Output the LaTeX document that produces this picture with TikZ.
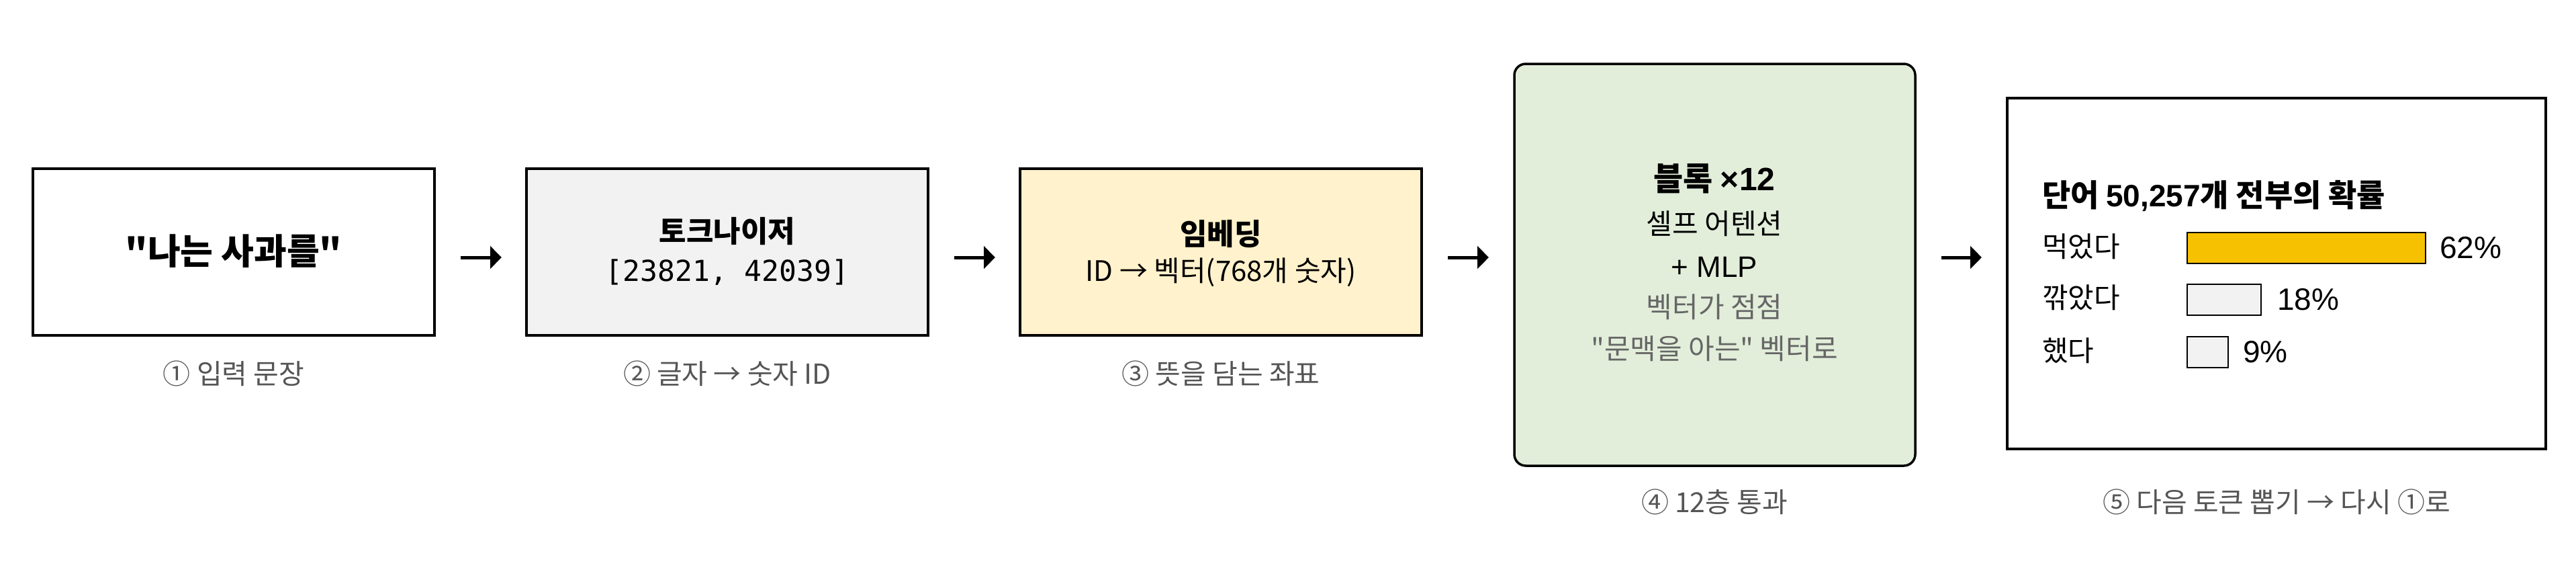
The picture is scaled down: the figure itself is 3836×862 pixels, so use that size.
\documentclass[tikz,border=0pt]{standalone}
\usepackage{fontspec}
\setmainfont{Noto Sans CJK KR}
\newfontfamily\qf{Noto Sans CJK KR}
\newfontfamily\hel{Liberation Sans}
\newfontfamily\mono{DejaVu Sans Mono}
\usetikzlibrary{arrows.meta}
\newcommand{\sq}{{\qf\symbol{34}}}
\definecolor{lbl}{HTML}{555555}
\definecolor{sub}{HTML}{666666}
\definecolor{tokfill}{HTML}{F2F2F2}
\definecolor{embfill}{HTML}{FFF2CC}
\definecolor{blkfill}{HTML}{E2EEDA}
\definecolor{bary}{HTML}{F6C100}
\tikzset{
  box/.style={draw=black, line width=3.5pt, minimum width=598pt, minimum height=248pt, inner sep=0pt, outer sep=0pt},
  bar/.style={draw=black, line width=2.5pt, minimum height=46pt, inner sep=0pt, outer sep=0pt, anchor=west},
  arr/.style={line width=5pt, -{Triangle[length=17pt,width=33pt]}},
  txt/.style={inner sep=0pt, outer sep=0pt},
  lab/.style={txt, text=lbl, font=\fontsize{41}{48}\selectfont},
  head/.style={txt, font=\bfseries\fontsize{44}{52}\selectfont},
  body/.style={txt, font=\fontsize{42}{50}\selectfont},
  row/.style={txt, anchor=west, font=\fontsize{42}{50}\selectfont},
  pct/.style={txt, anchor=west, font=\hel\fontsize{46}{54}\selectfont},
}
\begin{document}
\begin{tikzpicture}[x=1pt,y=-1pt]
\useasboundingbox (0,0) rectangle (3836,862);

% boxes
\node[box] (b1) at (348,375) {};
\node[txt, font=\bfseries\fontsize{53}{60}\selectfont] (t1) at (348,374) {\sq 나는 사과를\sq};

\node[box, fill=tokfill] (b2) at (1083,375) {};
\node[head] (t2a) at (1083,344) {토크나이저};
\node[txt, font=\mono\fontsize{43}{50}\selectfont] (t2b) at (1083,405) {[23821, 42039]};

\node[box, fill=embfill] (b3) at (1818,375) {};
\node[head] (t3a) at (1818,348) {임베딩};
\node[body] (t3b) at (1818,405) {ID → 벡터(768개 숫자)};

\node[draw=black, line width=3.5pt, fill=blkfill, rounded corners=17pt, minimum width=597pt, minimum height=598pt, inner sep=0pt, outer sep=0pt] (b4) at (2553.5,394) {};
\node[txt, font=\bfseries\fontsize{48}{56}\selectfont] (t4a) at (2553,266) {블록 {\hel ×12}};
\node[body] (t4b) at (2553,333) {셀프 어텐션};
\node[txt, font=\hel\fontsize{44}{52}\selectfont] (t4c) at (2553,397) {+ MLP};
\node[body, text=sub] (t4d) at (2553,457) {벡터가 점점};
\node[body, text=sub] (t4e) at (2553,519) {\sq 문맥을 아는\sq{} 벡터로};

\node[draw=black, line width=3.5pt, minimum width=802pt, minimum height=522pt, inner sep=0pt, outer sep=0pt] (b5) at (3390,407) {};
\node[txt, anchor=west, font=\bfseries\fontsize{46}{54}\selectfont] (t5) at (3041,291) {단어 {\hel 50,257}개 전부의 확률};
\node[row] (r1) at (3041,367) {먹었다};
\node[row] (r2) at (3041,443) {깎았다};
\node[row] (r3) at (3041,522) {했다};
\node[bar, fill=bary, minimum width=355pt] (bar1) at (3257,369) {};
\node[bar, fill=tokfill, minimum width=110pt] (bar2) at (3257,446) {};
\node[bar, fill=tokfill, minimum width=61pt] (bar3) at (3257,524) {};
\node[pct] (p1) at ([xshift=21pt]bar1.east) {62\%};
\node[pct] (p2) at ([xshift=24pt]bar2.east) {18\%};
\node[pct] (p3) at ([xshift=22pt]bar3.east) {9\%};

% captions
\node[lab] (l1) at (348,556) {① 입력 문장};
\node[lab] (l2) at (1083,556) {② 글자 → 숫자 ID};
\node[lab] (l3) at (1818,556) {③ 뜻을 담는 좌표};
\node[lab] (l4) at (2553,747) {④ 12층 통과};
\node[lab] (l5) at (3390,747) {⑤ 다음 토큰 뽑기 → 다시 ①로};

% arrows
\draw[arr, shorten <=39pt, shorten >=37pt] (b1.east |- 0,383) -- (b2.west |- 0,383);
\draw[arr, shorten <=39pt, shorten >=37pt] (b2.east |- 0,383) -- (b3.west |- 0,383);
\draw[arr, shorten <=39pt, shorten >=38pt] (b3.east |- 0,383) -- (b4.west |- 0,383);
\draw[arr, shorten <=39pt, shorten >=38pt] (b4.east |- 0,383) -- (b5.west |- 0,383);
\end{tikzpicture}
\end{document}
